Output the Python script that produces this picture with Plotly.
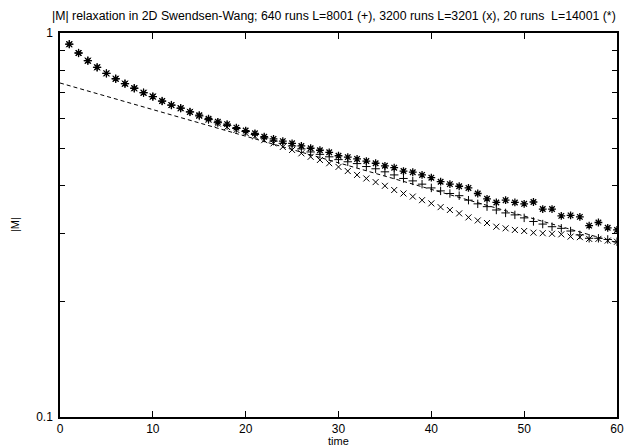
import plotly.graph_objects as go

# time steps (Swendsen-Wang sweeps)
t = list(range(1, 61))

# |M| for 20 runs, L=14001  (*)
m_star = [0.935, 0.887, 0.847, 0.814, 0.785, 0.760, 0.738, 0.718, 0.699, 0.683,
          0.665, 0.649, 0.637, 0.623, 0.611, 0.598, 0.587, 0.579, 0.567, 0.557,
          0.548, 0.537, 0.530, 0.523, 0.516, 0.508, 0.501, 0.495, 0.489, 0.479,
          0.475, 0.470, 0.464, 0.458, 0.451, 0.446, 0.437, 0.434, 0.427, 0.420,
          0.410, 0.404, 0.399, 0.395, 0.382, 0.370, 0.362, 0.367, 0.362, 0.359,
          0.363, 0.348, 0.348, 0.334, 0.335, 0.332, 0.315, 0.321, 0.311, 0.307]

# |M| for 640 runs, L=8001  (+)
m_plus = [0.935, 0.887, 0.847, 0.814, 0.785, 0.760, 0.738, 0.718, 0.699, 0.683,
          0.665, 0.649, 0.637, 0.623, 0.608, 0.595, 0.584, 0.574, 0.564, 0.554,
          0.544, 0.533, 0.523, 0.516, 0.508, 0.499, 0.490, 0.483, 0.476, 0.468,
          0.462, 0.457, 0.449, 0.443, 0.435, 0.427, 0.418, 0.412, 0.404, 0.395,
          0.388, 0.382, 0.377, 0.367, 0.359, 0.353, 0.346, 0.340, 0.336, 0.330,
          0.323, 0.318, 0.313, 0.310, 0.305, 0.298, 0.292, 0.292, 0.290, 0.286]

# |M| for 3200 runs, L=3201  (x)
m_x = [0.935, 0.887, 0.847, 0.814, 0.785, 0.760, 0.738, 0.718, 0.699, 0.683,
       0.665, 0.649, 0.637, 0.623, 0.608, 0.594, 0.581, 0.569, 0.559, 0.549,
       0.538, 0.526, 0.516, 0.505, 0.496, 0.486, 0.476, 0.467, 0.458, 0.448,
       0.437, 0.427, 0.418, 0.409, 0.400, 0.390, 0.382, 0.375, 0.367, 0.360,
       0.352, 0.346, 0.339, 0.331, 0.325, 0.320, 0.313, 0.310, 0.307, 0.305,
       0.302, 0.301, 0.300, 0.299, 0.295, 0.294, 0.291, 0.291, 0.288, 0.286]

# exponential fit (straight on the log axis), given by its end points
fit_t = [0, 60]
fit_m = [0.741, 0.2845]

x_ticks = [0, 10, 20, 30, 40, 50, 60]
y_ticks = [0.1, 0.2, 0.3, 0.4, 0.5, 0.6, 0.7, 0.8, 0.9, 1.0]
y_ticktext = ["0.1", "", "", "", "", "", "", "", "", "1"]

title_text = ("|M| relaxation in 2D Swendsen-Wang; 640 runs L=8001 (+), "
              "3200 runs L=3201 (x), 20 runs  L=14001 (*)")

FONT = "Liberation Sans, Arial, sans-serif"

fig = go.Figure()

fig.add_trace(go.Scatter(
    x=fit_t, y=fit_m, mode="lines",
    line=dict(color="black", width=1, dash="4px,3px"),
    showlegend=False, hoverinfo="skip"))

fig.add_trace(go.Scatter(
    x=t, y=m_x, mode="markers",
    marker=dict(symbol="x-thin-open", size=6, color="black",
                line=dict(color="black", width=1)),
    showlegend=False))

fig.add_trace(go.Scatter(
    x=t, y=m_plus, mode="markers",
    marker=dict(symbol="cross-thin-open", size=6, color="black",
                line=dict(color="black", width=1)),
    showlegend=False))

fig.add_trace(go.Scatter(
    x=t, y=m_star, mode="markers",
    marker=dict(symbol="asterisk-open", size=6.5, color="black",
                line=dict(color="black", width=1.3)),
    showlegend=False))

fig.update_layout(
    width=630, height=448,
    margin=dict(l=60, r=6, t=33, b=31),
    paper_bgcolor="white", plot_bgcolor="white",
    font=dict(family=FONT, size=12, color="black"),
    showlegend=False,
)

fig.update_xaxes(
    range=[0, 60],
    tickvals=x_ticks, ticktext=[str(v) for v in x_ticks],
    ticks="inside", ticklen=6, tickwidth=1, tickcolor="black",
    showline=True, linecolor="black", linewidth=1.5, mirror="ticks",
    showgrid=False, zeroline=False, ticklabelstandoff=0,
    tickfont=dict(family=FONT, size=12),
)

fig.update_yaxes(
    type="log", range=[-1, 0],
    tickvals=y_ticks, ticktext=y_ticktext,
    ticks="inside", ticklen=5, tickwidth=1, tickcolor="black",
    showline=True, linecolor="black", linewidth=1.5, mirror="ticks",
    showgrid=False, zeroline=False, ticklabelstandoff=3,
    tickfont=dict(family=FONT, size=12),
)

fig.add_annotation(
    text=title_text, xref="paper", yref="paper",
    x=0.492, y=1, yshift=8, xanchor="center", yanchor="bottom",
    showarrow=False, font=dict(family=FONT, size=12.3))

fig.add_annotation(
    text="time", xref="paper", yref="paper",
    x=0.5, y=0, yshift=-31, xanchor="center", yanchor="bottom",
    borderpad=0, showarrow=False, font=dict(family=FONT, size=11))

fig.add_annotation(
    text="|M|", xref="paper", yref="paper",
    x=0, y=0.5, xshift=-45, xanchor="center", yanchor="middle",
    textangle=-90, showarrow=False, font=dict(family=FONT, size=11))

fig.write_html("out.html")
